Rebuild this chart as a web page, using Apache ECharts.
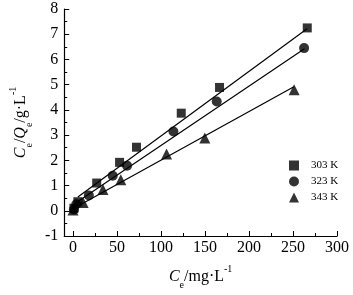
<!DOCTYPE html>
<html>
<head>
<meta charset="utf-8">
<script src="https://cdn.jsdelivr.net/npm/echarts@6/dist/echarts.min.js"></script>
<style>
html,body{margin:0;padding:0;background:#fff;}
#c{width:353px;height:295px;}
</style>
</head>
<body>
<div id="c"></div>
<script>
// ---- data ----
var x303 = [1, 5.5, 26.9, 52.9, 72.1, 123, 166.5, 266.2];
var y303 = [0.1, 0.36, 1.10, 1.92, 2.52, 3.87, 4.89, 7.25];
var x323 = [1, 3.7, 18, 45.1, 61.4, 114.1, 163.3, 262.6];
var y323 = [0.05, 0.26, 0.61, 1.39, 1.79, 3.14, 4.33, 6.45];
var x343 = [0, 11.5, 34, 54.3, 106.3, 149.8, 251.3];
var y343 = [0.03, 0.33, 0.84, 1.23, 2.25, 2.89, 4.80];
// fitted line end points (read)
var fit303X = [5.5, 266];
var fit303Y = [0.55, 7.22];
var fit323X = [3, 263];
var fit323Y = [0.31, 6.42];
var fit343X = [0, 251];
var fit343Y = [0.08, 4.92];
var xMajorTicks = [0, 50, 100, 150, 200, 250, 300];
var xMinorTicks = [25, 75, 125, 175, 225, 275];
var seriesNames = ['303 K', '323 K', '343 K'];

function pairs(xs, ys){ return xs.map(function(v,i){ return [v, ys[i]]; }); }

var FONT = '"Liberation Serif", "DejaVu Serif", serif';
var chart = echarts.init(document.getElementById('c'), null, {renderer:'canvas'});

var nameRich = {
  i: {fontFamily: FONT, fontSize: 16, fontStyle: 'italic', color:'#000', lineHeight: 26},
  n: {fontFamily: FONT, fontSize: 16, color:'#000', lineHeight: 26},
  sub: {fontFamily: FONT, fontSize: 10, color:'#000', verticalAlign: 'bottom', lineHeight: 26},
  sup: {fontFamily: FONT, fontSize: 10, color:'#000', verticalAlign: 'top', lineHeight: 24}
};

var option = {
  animation: false,
  backgroundColor: '#fff',
  grid: {left: 47, right: 16, top: 9, bottom: 53, containLabel: false},
  legend: {
    data: [
      {name: seriesNames[0], icon: 'rect'},
      {name: seriesNames[1], icon: 'circle'},
      {name: seriesNames[2], icon: 'triangle'}
    ],
    orient: 'vertical',
    left: 284, top: 155,
    itemWidth: 10, itemHeight: 10, itemGap: 5,
    textStyle: {fontFamily: FONT, fontSize: 11, color: '#000', padding: [0, 0, 0, 7]}
  },
  xAxis: [{
    type: 'value', min: -10, max: 300,
    name: '{i|C}{sub|e}{n|/mg·L}{sup|-1}',
    nameLocation: 'middle', nameGap: 28,
    nameTextStyle: {rich: nameRich},
    axisLine: {show: true, onZero: false, lineStyle: {color: '#000', width: 1.2}},
    axisTick: {show: true, inside: true, length: 5, customValues: xMajorTicks, lineStyle: {color:'#000'}},
    axisLabel: {customValues: xMajorTicks, fontFamily: FONT, fontSize: 16, color: '#000', margin: 4},
    splitLine: {show: false}
  }, {
    type: 'value', min: -10, max: 300, position: 'bottom',
    axisLine: {show: false, onZero: false},
    axisTick: {show: true, inside: true, length: 3, customValues: xMinorTicks, lineStyle: {color:'#000'}},
    axisLabel: {show: false},
    splitLine: {show: false}
  }],
  yAxis: {
    type: 'value', min: -1, max: 8, interval: 1,
    name: '{i|C}{sub|e}{n|/}{i|Q}{sub|e}{n|/g·L}{sup|-1}',
    nameLocation: 'middle', nameGap: 29, nameRotate: 90,
    nameTextStyle: {rich: nameRich},
    axisLine: {show: true, onZero: false, lineStyle: {color: '#000', width: 1.2}},
    axisTick: {show: true, inside: true, length: 5, lineStyle: {color:'#000'}},
    minorTick: {show: true, splitNumber: 2, length: 3, lineStyle: {color:'#000'}},
    axisLabel: {fontFamily: FONT, fontSize: 16, color: '#000', margin: 6},
    splitLine: {show: false}
  },
  series: [
    {name: 'fit303', type: 'line', data: pairs(fit303X, fit303Y), symbol: 'none', lineStyle: {color:'#000', width: 1.2}, z: 1},
    {name: 'fit323', type: 'line', data: pairs(fit323X, fit323Y), symbol: 'none', lineStyle: {color:'#000', width: 1.2}, z: 1},
    {name: 'fit343', type: 'line', data: pairs(fit343X, fit343Y), symbol: 'none', lineStyle: {color:'#000', width: 1.2}, z: 1},
    {name: seriesNames[0], type: 'scatter', data: pairs(x303, y303), symbol: 'rect', symbolSize: 9, itemStyle: {color: '#000'}, z: 3},
    {name: seriesNames[1], type: 'scatter', data: pairs(x323, y323), symbol: 'circle', symbolSize: 10, itemStyle: {color: '#000'}, z: 3},
    {name: seriesNames[2], type: 'scatter', data: pairs(x343, y343), symbol: 'triangle', symbolSize: 11, itemStyle: {color: '#000'}, z: 3}
  ]
};
chart.setOption(option);
</script>
</body>
</html>
